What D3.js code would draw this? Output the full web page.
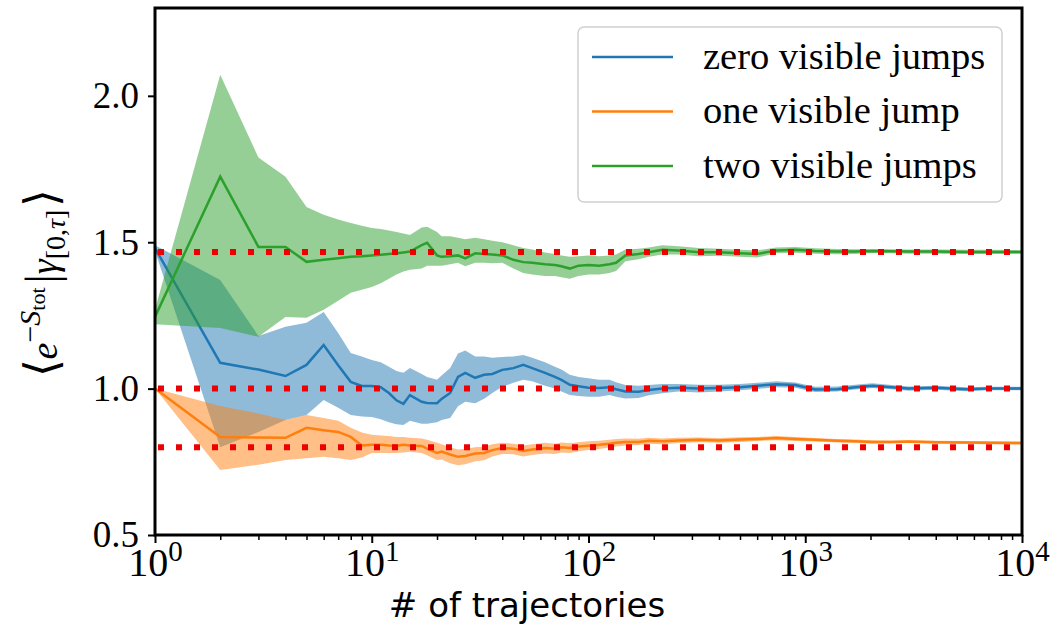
<!DOCTYPE html>
<html>
<head>
<meta charset="utf-8">
<script src="https://cdnjs.cloudflare.com/ajax/libs/d3/7.8.5/d3.min.js"></script>
<style>
  body { margin: 0; background: #fff; }
  svg { display: block; }
</style>
</head>
<body>
<div id="chart"></div>
<script>
// number of trajectories (x values)
const nTraj = [1,2,3,4,5,6,7,8,9,10,11,12,13,14,15,17,18,20,21,23,25,27,30,33,36,
  40,45,50,55,63,70,75,82,90,100,112,125,134,148,170,190,219,260,323,400,
  500,600,735,900,1110,1400,1700,2040,2500,3000,4000,5540,7000,10000];

// zero visible jumps
const zeroMean = [1.48,1.088,1.065,1.043,1.081,1.149,1.08,1.023,1.009,1.009,1.005,0.985,0.96,0.948,0.978,0.955,0.951,0.95,0.965,0.985,1.04,
  1.054,1.037,1.047,1.05,1.064,1.07,1.081,1.07,1.054,1.04,1.03,1.013,1.008,1.003,1.002,1.005,0.998,0.99,0.989,0.995,1.0,1.003,1.0,1.002,
  1.005,1.01,1.015,1.012,0.997,0.998,1.005,1.01,1.005,1.0,1.003,0.998,1.0,1.0];
const zeroHi = [1.49,1.371,1.18,1.211,1.225,1.262,1.19,1.122,1.11,1.098,1.09,1.075,1.06,1.054,1.07,1.05,1.04,1.03,1.045,1.07,1.12,
  1.13,1.11,1.11,1.105,1.108,1.11,1.115,1.105,1.09,1.075,1.065,1.047,1.04,1.035,1.03,1.03,1.022,1.012,1.01,1.012,1.016,1.016,1.013,1.013,
  1.016,1.02,1.025,1.021,1.006,1.007,1.013,1.018,1.012,1.007,1.01,1.005,1.006,1.006];
const zeroLo = [1.47,0.80,0.852,0.893,0.91,0.961,0.935,0.91,0.905,0.903,0.895,0.885,0.878,0.876,0.89,0.88,0.88,0.885,0.893,0.9,0.94,
  0.955,0.95,0.965,0.985,1.006,1.02,1.03,1.025,1.01,1.0,0.99,0.978,0.975,0.972,0.972,0.978,0.972,0.966,0.968,0.977,0.984,0.99,0.987,0.99,
  0.994,0.999,1.005,1.003,0.988,0.99,0.997,1.002,0.998,0.993,0.996,0.991,0.994,0.994];

// one visible jump
const oneMean = [1.0,0.835,0.833,0.832,0.866,0.858,0.852,0.835,0.806,0.808,0.808,0.806,0.805,0.808,0.806,0.804,0.795,0.78,0.785,0.775,0.767,
  0.77,0.778,0.78,0.79,0.797,0.795,0.787,0.792,0.797,0.795,0.8,0.797,0.802,0.805,0.808,0.812,0.815,0.818,0.818,0.822,0.82,0.823,0.825,0.823,
  0.826,0.828,0.831,0.828,0.825,0.822,0.82,0.818,0.818,0.819,0.817,0.816,0.815,0.814];
const oneHi = [1.0,0.941,0.915,0.893,0.91,0.90,0.89,0.866,0.85,0.842,0.84,0.838,0.835,0.835,0.832,0.83,0.825,0.815,0.81,0.8,0.792,
  0.795,0.8,0.802,0.81,0.815,0.812,0.806,0.81,0.815,0.812,0.816,0.813,0.817,0.82,0.822,0.825,0.828,0.83,0.829,0.832,0.83,0.832,0.833,0.831,
  0.834,0.835,0.838,0.835,0.831,0.828,0.826,0.824,0.823,0.824,0.822,0.821,0.82,0.819];
const oneLo = [1.0,0.722,0.74,0.756,0.762,0.767,0.762,0.756,0.765,0.78,0.78,0.78,0.78,0.782,0.784,0.78,0.772,0.756,0.758,0.745,0.738,
  0.742,0.752,0.755,0.768,0.777,0.776,0.768,0.773,0.778,0.777,0.782,0.78,0.786,0.79,0.794,0.799,0.802,0.806,0.807,0.812,0.81,0.814,0.817,0.815,
  0.818,0.821,0.824,0.821,0.819,0.816,0.814,0.812,0.813,0.814,0.812,0.811,0.81,0.809];

// two visible jumps
const twoMean = [1.245,1.724,1.484,1.484,1.433,1.44,1.445,1.45,1.452,1.455,1.457,1.46,1.462,1.465,1.468,1.49,1.498,1.455,1.45,1.452,1.455,
  1.445,1.462,1.46,1.458,1.455,1.44,1.432,1.43,1.425,1.422,1.418,1.41,1.42,1.422,1.42,1.425,1.43,1.455,1.46,1.466,1.474,1.472,1.466,1.466,
  1.462,1.46,1.472,1.474,1.47,1.468,1.468,1.47,1.469,1.468,1.468,1.467,1.467,1.467];
const twoHi = [1.27,2.072,1.789,1.724,1.62,1.594,1.578,1.566,1.556,1.549,1.545,1.54,1.535,1.53,1.525,1.55,1.553,1.535,1.52,1.52,1.515,
  1.51,1.515,1.51,1.505,1.50,1.49,1.48,1.475,1.465,1.46,1.455,1.45,1.452,1.455,1.452,1.455,1.458,1.475,1.478,1.482,1.49,1.486,1.48,1.478,
  1.474,1.472,1.482,1.484,1.479,1.477,1.476,1.477,1.476,1.475,1.475,1.474,1.474,1.473];
const twoLo = [1.22,1.207,1.177,1.245,1.242,1.269,1.30,1.327,1.338,1.347,1.36,1.375,1.39,1.40,1.406,1.41,1.42,1.42,1.42,1.425,1.43,
  1.418,1.43,1.43,1.428,1.43,1.41,1.395,1.39,1.385,1.385,1.38,1.375,1.385,1.39,1.39,1.395,1.402,1.435,1.442,1.45,1.458,1.458,1.452,1.454,
  1.45,1.448,1.462,1.464,1.461,1.459,1.46,1.463,1.462,1.461,1.461,1.46,1.46,1.461];

// expected values (red dotted lines)
const refLevels = [1.467, 1.0, 0.8];

const seriesNames = ['zero visible jumps', 'one visible jump', 'two visible jumps'];
const seriesColors = ['#1f77b4', '#ff7f0e', '#2ca02c'];
const yTicks = [0.5, 1.0, 1.5, 2.0];
const xTicks = [1, 10, 100, 1000, 10000];

const width = 1059, height = 625;
const padLeft = 155, padRight = 1022, padTop = 8, padBottom = 535;

const svg = d3.select('#chart').append('svg')
  .attr('width', width)
  .attr('height', height);

const x = d3.scaleLog().domain([1, 10000]).range([padLeft, padRight]);
const y = d3.scaleLinear().domain([0.5, 2.3]).range([padBottom, padTop]);

const series = [
  { mean: zeroMean, lo: zeroLo, hi: zeroHi },
  { mean: oneMean, lo: oneLo, hi: oneHi },
  { mean: twoMean, lo: twoLo, hi: twoHi }
];

const plot = svg.append('g');

const area = d3.area()
  .x(d => x(d.n))
  .y0(d => y(d.lo))
  .y1(d => y(d.hi));

const line = d3.line()
  .x(d => x(d.n))
  .y(d => y(d.v));

series.forEach((s, i) => {
  const pts = nTraj.map((n, k) => ({ n: n, v: s.mean[k], lo: s.lo[k], hi: s.hi[k] }));
  plot.append('path')
    .datum(pts)
    .attr('d', area)
    .attr('fill', seriesColors[i])
    .attr('fill-opacity', 0.5)
    .attr('stroke', 'none');
  plot.append('path')
    .datum(pts)
    .attr('d', line)
    .attr('fill', 'none')
    .attr('stroke', seriesColors[i])
    .attr('stroke-width', 2.5);
});

// red reference lines
plot.selectAll('.ref')
  .data(refLevels)
  .enter().append('line')
  .attr('class', 'ref')
  .attr('x1', x(1))
  .attr('x2', x(10000))
  .attr('y1', d => y(d))
  .attr('y2', d => y(d))
  .attr('stroke', '#ee0000')
  .attr('stroke-width', 6)
  .attr('stroke-dasharray', '6,12')
  .attr('stroke-dashoffset', -3);

// axes
const minorTicks = [];
[1, 10, 100, 1000].forEach(dec => {
  for (let m = 2; m <= 9; m++) minorTicks.push(dec * m);
});

svg.append('g')
  .attr('transform', `translate(0,${padBottom})`)
  .call(d3.axisBottom(x).tickValues(minorTicks).tickSize(5).tickFormat(''))
  .call(g => g.select('.domain').remove())
  .call(g => g.selectAll('line').attr('stroke', '#000').attr('stroke-width', 1.5));

const xAxisG = svg.append('g')
  .attr('transform', `translate(0,${padBottom})`)
  .call(d3.axisBottom(x).tickValues(xTicks).tickSize(8).tickFormat(''))
  .call(g => g.select('.domain').remove())
  .call(g => g.selectAll('line').attr('stroke', '#000').attr('stroke-width', 2));

xAxisG.selectAll('.tick')
  .append('text')
  .attr('x', 0)
  .attr('y', 41)
  .attr('fill', '#000')
  .attr('text-anchor', 'middle')
  .style('font-family', '"Liberation Serif", "Times New Roman", serif')
  .style('font-size', '40px')
  .each(function(d) {
    const t = d3.select(this);
    t.append('tspan').text('10');
    t.append('tspan')
      .attr('dy', -15)
      .style('font-size', '29px')
      .text(Math.round(Math.log10(d)));
  });

const yAxisG = svg.append('g')
  .attr('transform', `translate(${padLeft},0)`)
  .call(d3.axisLeft(y).tickValues(yTicks).tickSize(7).tickPadding(9).tickFormat(d3.format('.1f')))
  .call(g => g.select('.domain').remove())
  .call(g => g.selectAll('line').attr('stroke', '#000').attr('stroke-width', 2));

yAxisG.selectAll('text')
  .attr('fill', '#000')
  .attr('dy', '0.32em')
  .style('font-family', '"Liberation Serif", "Times New Roman", serif')
  .style('font-size', '37px');

// frame
svg.append('rect')
  .attr('x', padLeft)
  .attr('y', padTop)
  .attr('width', padRight - padLeft)
  .attr('height', padBottom - padTop)
  .attr('fill', 'none')
  .attr('stroke', '#000')
  .attr('stroke-width', 3);

// x label
svg.append('text')
  .attr('x', 527)
  .attr('y', 617)
  .attr('text-anchor', 'middle')
  .style('font-family', '"DejaVu Sans", sans-serif')
  .style('font-size', '34px')
  .text('# of trajectories');

// y label (math)
const yl = svg.append('text')
  .attr('transform', 'translate(57,283) rotate(-90)')
  .attr('text-anchor', 'middle')
  .style('font-family', '"Liberation Serif", "Times New Roman", serif')
  .style('font-size', '38px')
  .attr('fill', '#000');
yl.append('tspan').style('font-size', '46px').text('\u27E8');
yl.append('tspan').style('font-style', 'italic').text('e');
yl.append('tspan').attr('dy', -17).style('font-size', '30px').text('\u2212');
yl.append('tspan').style('font-size', '30px').style('font-style', 'italic').text('S');
yl.append('tspan').attr('dy', 5).style('font-size', '22px').text('tot');
yl.append('tspan').attr('dy', 12).attr('dx', 4).style('font-size', '46px').text('|');
yl.append('tspan').style('font-style', 'italic').text('\u03B3');
yl.append('tspan').attr('dy', 8).style('font-size', '28px').text('[0,');
yl.append('tspan').style('font-size', '28px').style('font-style', 'italic').text('\u03C4');
yl.append('tspan').style('font-size', '28px').text(']');
yl.append('tspan').attr('dy', -8).attr('dx', 3).style('font-size', '46px').text('\u27E9');

// legend
const legend = svg.append('g');
legend.append('rect')
  .attr('x', 578)
  .attr('y', 27)
  .attr('width', 424)
  .attr('height', 175)
  .attr('rx', 6)
  .attr('fill', '#fff')
  .attr('fill-opacity', 0.8)
  .attr('stroke', '#d0d0d0')
  .attr('stroke-width', 1.5);

const legendRows = legend.selectAll('.lg')
  .data(seriesNames)
  .enter().append('g')
  .attr('class', 'lg')
  .attr('transform', (d, i) => `translate(0,${57 + i * 54.5})`);

legendRows.append('line')
  .attr('x1', 592)
  .attr('x2', 673)
  .attr('stroke', (d, i) => seriesColors[i])
  .attr('stroke-width', 2.5);

legendRows.append('text')
  .attr('x', 703)
  .attr('dy', '0.3em')
  .style('font-family', '"Liberation Serif", "Times New Roman", serif')
  .style('font-size', '38.5px')
  .attr('fill', '#000')
  .text(d => d);
</script>
</body>
</html>
